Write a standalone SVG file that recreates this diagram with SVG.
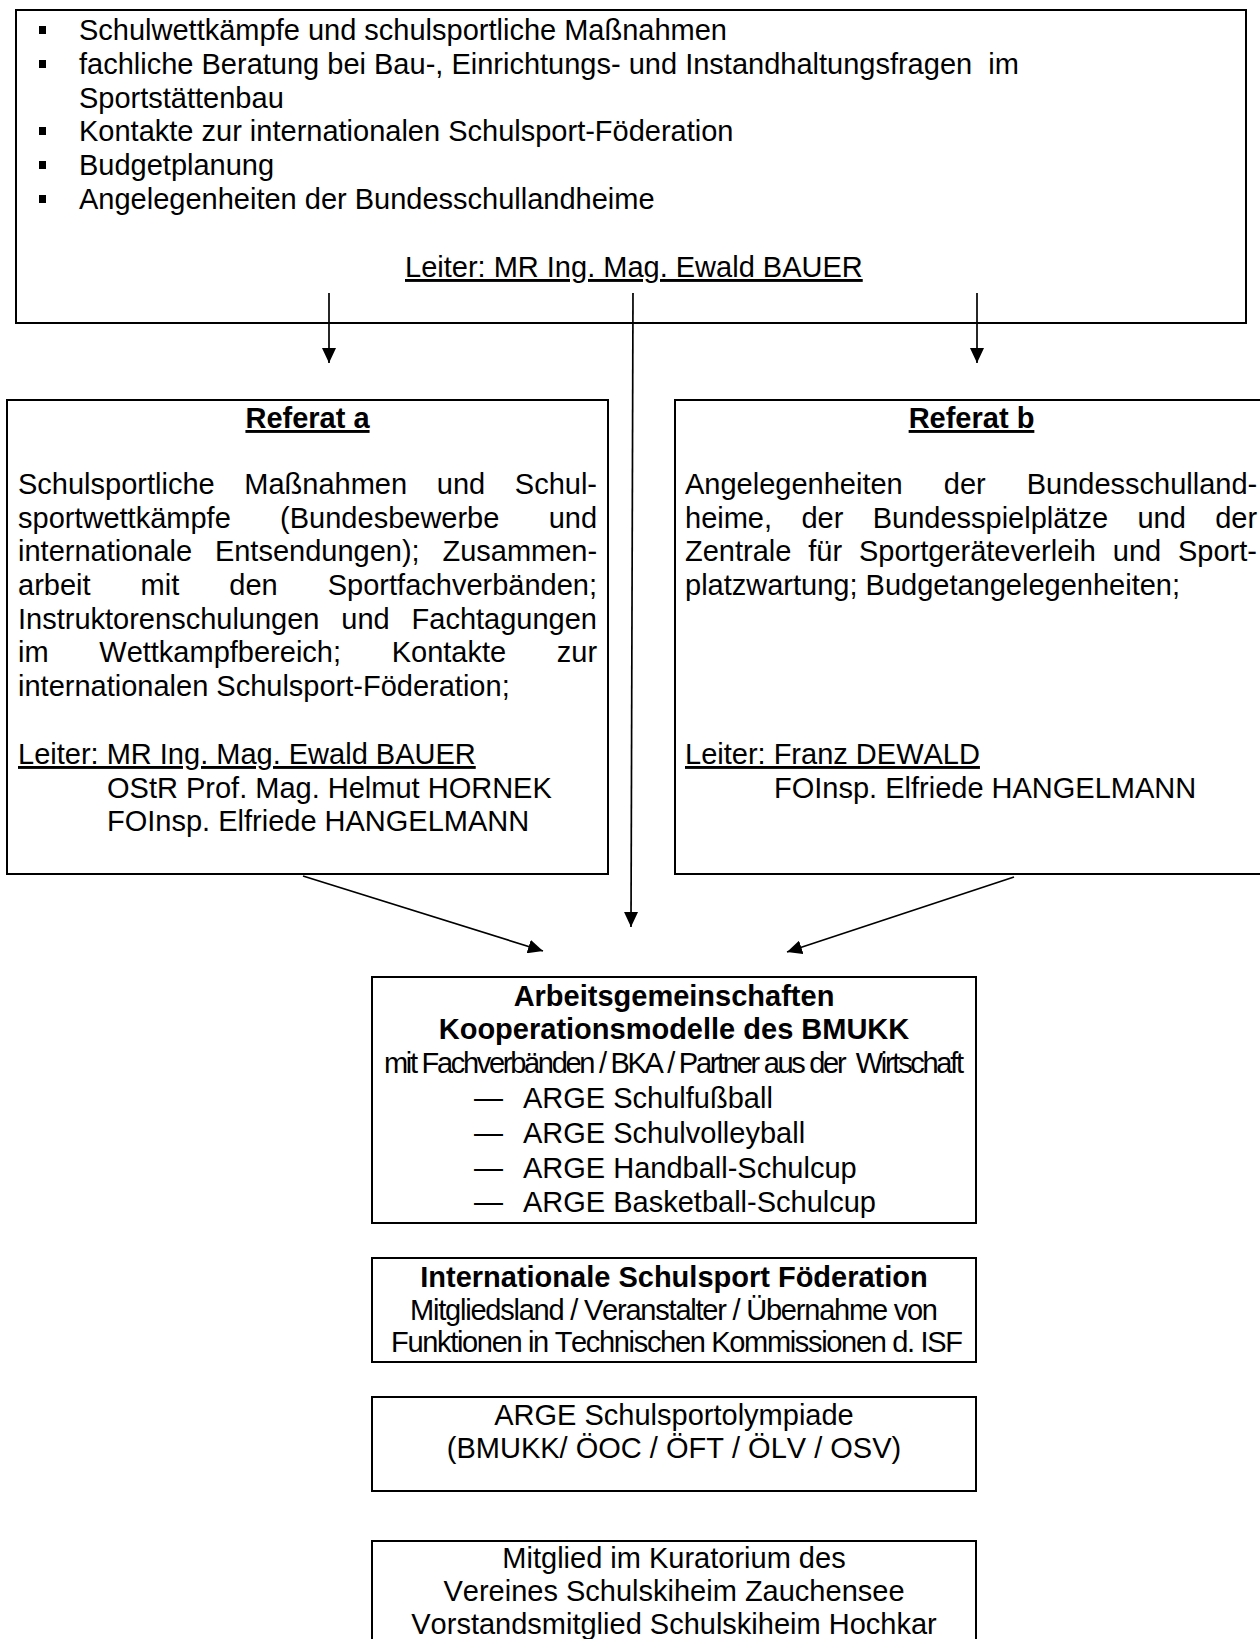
<svg xmlns="http://www.w3.org/2000/svg" width="1260" height="1639" viewBox="0 0 1260 1639">
<style>
.t{font-family:"Liberation Sans",Arial,sans-serif;font-size:29px;fill:#000;font-kerning:none}
.b{font-weight:bold}
.m{text-anchor:middle}
.u{text-decoration:underline}
.box{fill:none;stroke:#000;stroke-width:2}
.c{fill:none;stroke:#000;stroke-width:1.7;marker-end:url(#ah)}
</style>
<defs>
<marker id="ah" markerUnits="userSpaceOnUse" viewBox="0 0 15 14" markerWidth="15" markerHeight="14" refX="15" refY="7" orient="auto">
<path d="M0,0 L15,7 L0,14 Z" fill="#000"/>
</marker>
</defs>
<rect width="1260" height="1639" fill="#fff"/>

<g id="abteilung">
<rect class="box" x="16" y="10" width="1230" height="313"/>
<rect x="39" y="26" width="7" height="8"/>
<rect x="39" y="60" width="7" height="8"/>
<rect x="39" y="127" width="7" height="8"/>
<rect x="39" y="161" width="7" height="8"/>
<rect x="39" y="195" width="7" height="8"/>
<text class="t" x="79" y="40">Schulwettkämpfe und schulsportliche Maßnahmen</text>
<text class="t" x="79" y="74" xml:space="preserve">fachliche Beratung bei Bau-, Einrichtungs- und Instandhaltungsfragen  im</text>
<text class="t" x="79" y="108">Sportstättenbau</text>
<text class="t" x="79" y="141">Kontakte zur internationalen Schulsport-Föderation</text>
<text class="t" x="79" y="175">Budgetplanung</text>
<text class="t" x="79" y="209">Angelegenheiten der Bundesschullandheime</text>
<text class="t u" x="405" y="277">Leiter: MR Ing. Mag. Ewald BAUER</text>
</g>

<g id="referat-a">
<rect class="box" x="7" y="400" width="601" height="474"/>
<text class="t b m u" x="307.5" y="428">Referat a</text>
<text class="t" x="18" y="494" word-spacing="21.6">Schulsportliche Maßnahmen und Schul-</text>
<text class="t" x="18" y="528" word-spacing="41.3">sportwettkämpfe (Bundesbewerbe und</text>
<text class="t" x="18" y="561" word-spacing="14.7">internationale Entsendungen); Zusammen-</text>
<text class="t" x="18" y="595" word-spacing="42">arbeit mit den Sportfachverbänden;</text>
<text class="t" x="18" y="629" word-spacing="13.8">Instruktorenschulungen und Fachtagungen</text>
<text class="t" x="18" y="662" word-spacing="42.6">im Wettkampfbereich; Kontakte zur</text>
<text class="t" x="18" y="696">internationalen Schulsport-Föderation;</text>
<text class="t u" x="18" y="764">Leiter: MR Ing. Mag. Ewald BAUER</text>
<text class="t" x="107" y="798">OStR Prof. Mag. Helmut HORNEK</text>
<text class="t" x="107" y="831">FOInsp. Elfriede HANGELMANN</text>
</g>

<g id="referat-b">
<rect class="box" x="675" y="400" width="593" height="474"/>
<text class="t b m u" x="971.5" y="428">Referat b</text>
<text class="t" x="685" y="494" word-spacing="33">Angelegenheiten der Bundesschulland-</text>
<text class="t" x="685" y="528" word-spacing="21.3">heime, der Bundesspielplätze und der</text>
<text class="t" x="685" y="561" word-spacing="8.8">Zentrale für Sportgeräteverleih und Sport-</text>
<text class="t" x="685" y="595">platzwartung; Budgetangelegenheiten;</text>
<text class="t u" x="685" y="764">Leiter: Franz DEWALD</text>
<text class="t" x="774" y="798">FOInsp. Elfriede HANGELMANN</text>
</g>

<g id="arbeitsgemeinschaften">
<rect class="box" x="372" y="977" width="604" height="246"/>
<text class="t b m" x="674" y="1006">Arbeitsgemeinschaften</text>
<text class="t b m" x="674" y="1039">Kooperationsmodelle des BMUKK</text>
<text class="t" x="384" y="1073" textLength="580" lengthAdjust="spacing" xml:space="preserve">mit Fachverbänden / BKA / Partner aus der  Wirtschaft</text>
<text class="t" x="474" y="1108">—</text><text class="t" x="523" y="1108">ARGE Schulfußball</text>
<text class="t" x="474" y="1143">—</text><text class="t" x="523" y="1143">ARGE Schulvolleyball</text>
<text class="t" x="474" y="1178">—</text><text class="t" x="523" y="1178">ARGE Handball-Schulcup</text>
<text class="t" x="474" y="1212">—</text><text class="t" x="523" y="1212">ARGE Basketball-Schulcup</text>
</g>

<g id="isf">
<rect class="box" x="372" y="1258" width="604" height="104"/>
<text class="t b m" x="674" y="1287">Internationale Schulsport Föderation</text>
<text class="t" x="410" y="1320" textLength="528" lengthAdjust="spacing">Mitgliedsland / Veranstalter / Übernahme von</text>
<text class="t" x="391" y="1352" textLength="572" lengthAdjust="spacing">Funktionen in Technischen Kommissionen d. ISF</text>
</g>

<g id="schulsportolympiade">
<rect class="box" x="372" y="1397" width="604" height="94"/>
<text class="t m" x="674" y="1425">ARGE Schulsportolympiade</text>
<text class="t m" x="674" y="1458">(BMUKK/ ÖOC / ÖFT / ÖLV / OSV)</text>
</g>

<g id="kuratorium">
<rect class="box" x="372" y="1541" width="604" height="120"/>
<text class="t m" x="674" y="1568">Mitglied im Kuratorium des</text>
<text class="t m" x="674" y="1601">Vereines Schulskiheim Zauchensee</text>
<text class="t m" x="674" y="1634">Vorstandsmitglied Schulskiheim Hochkar</text>
</g>

<g id="connectors">
<line class="c" x1="329" y1="293" x2="329" y2="363"/>
<line class="c" x1="633" y1="293" x2="631" y2="927"/>
<line class="c" x1="977" y1="293" x2="977" y2="363"/>
<line class="c" x1="303" y1="876" x2="543" y2="951"/>
<line class="c" x1="1014" y1="877" x2="787" y2="952"/>
</g>
</svg>
